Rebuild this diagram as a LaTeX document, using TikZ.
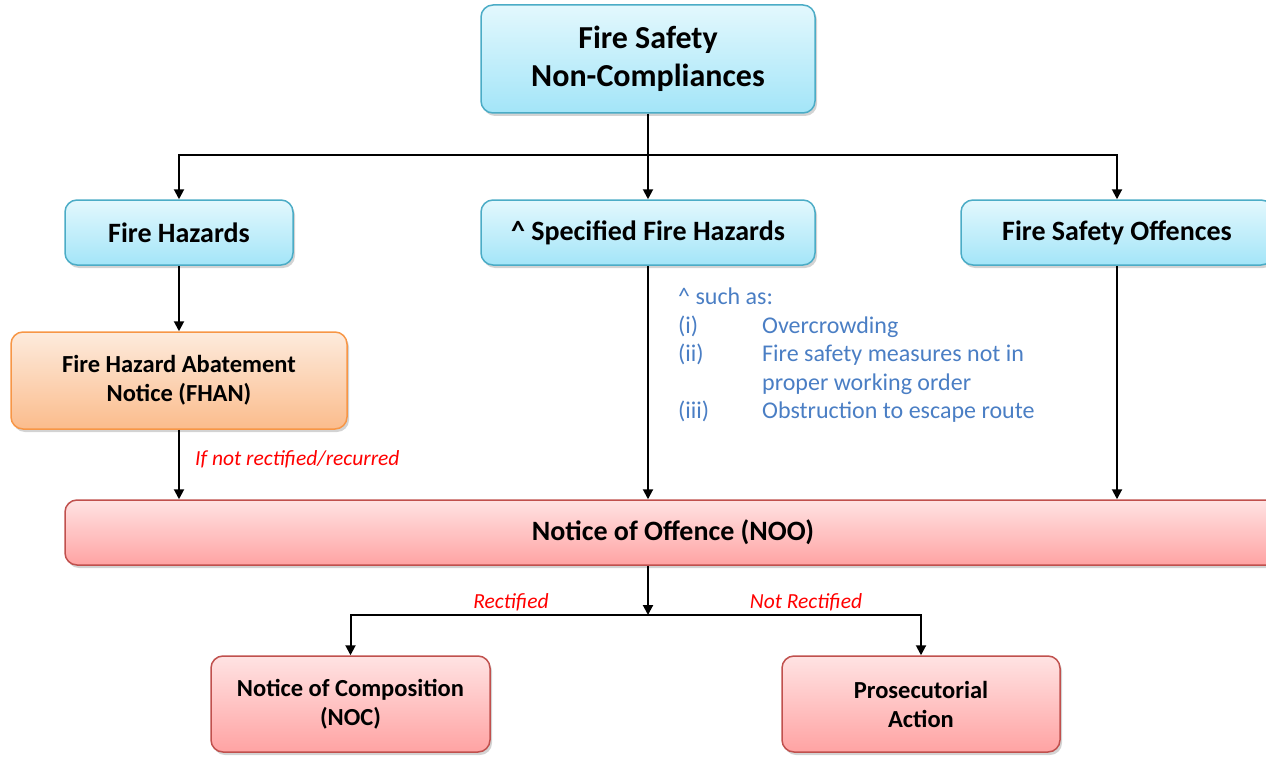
\documentclass[tikz,border=0pt]{standalone}
\usepackage{fontspec}
\setmainfont{Carlito}
\usetikzlibrary{shadows,arrows.meta}
\definecolor{bluetop}{HTML}{E3F8FD}
\definecolor{bluebot}{HTML}{A3E5F8}
\definecolor{blueedge}{HTML}{4BACC6}
\definecolor{orgtop}{HTML}{FDEBDD}
\definecolor{orgbot}{HTML}{FBBC8C}
\definecolor{orgedge}{HTML}{F79646}
\definecolor{redtop}{HTML}{FFE3E3}
\definecolor{redbot}{HTML}{FFA3A3}
\definecolor{rededge}{HTML}{C0504D}
\definecolor{notetext}{HTML}{4A7EC4}
\tikzset{
  x=1pt, y=-1pt,
  box/.style={draw, line width=1.5pt, rounded corners=12pt, align=center,
    font=\fontsize{28}{32}\selectfont\bfseries, inner sep=0pt,
    drop shadow={opacity=0.35, shadow xshift=2pt, shadow yshift=-3pt}},
  twoline/.style={font=\fontsize{24.5}{29}\selectfont\bfseries},
  bluebox/.style={box, draw=blueedge, top color=bluetop, bottom color=bluebot},
  orgbox/.style={box, draw=orgedge, top color=orgtop, bottom color=orgbot},
  redbox/.style={box, draw=rededge, top color=redtop, bottom color=redbot},
  conn/.style={line width=2pt, -{Triangle[length=10pt,width=10pt]}},
  plain/.style={line width=2pt},
  redlbl/.style={text=red, font=\fontsize{21.5}{24}\selectfont\itshape, inner sep=0pt, anchor=base},
  note/.style={text=notetext, font=\fontsize{24}{28.7}\selectfont, inner sep=0pt, anchor=base west},
}
\begin{document}
\begin{tikzpicture}
\useasboundingbox (0,0) rectangle (1266,757);
\begin{scope}
\clip (0,0) rectangle (1266,757);
\node[bluebox, minimum width=334pt, minimum height=108pt, font=\fontsize{32}{38}\selectfont\bfseries] (top) at (648,59) {Fire Safety\\Non-Compliances};
\node[bluebox, minimum width=228pt, minimum height=65pt] (fh) at (179,232.5) {Fire Hazards};
\node[bluebox, minimum width=334pt, minimum height=65pt] (sfh) at (648,232.5) {\^{} Specified Fire Hazards};
\node[bluebox, minimum width=312pt, minimum height=65pt] (fso) at (1117,232.5) {Fire Safety Offences};
\node[orgbox, twoline, minimum width=336pt, minimum height=97pt] (fhan) at (179,380.5) {Fire Hazard Abatement\\Notice (FHAN)};
\node[redbox, minimum width=1216pt, minimum height=65pt] (noo) at (673,532.5) {Notice of Offence (NOO)};
\node[redbox, twoline, minimum width=279pt, minimum height=96pt] (noc) at (350.5,704) {Notice of Composition\\(NOC)};
\node[redbox, twoline, minimum width=278pt, minimum height=96pt] (pa) at (921,704) {Prosecutorial\\Action};
\end{scope}

\coordinate (j1) at (648,155);
\coordinate (j2) at (648,615);
\draw[plain] (top.south) -- (j1);
\draw[conn] (j1) -| (fh.north);
\draw[conn] (j1) -- (sfh.north);
\draw[conn] (j1) -| (fso.north);
\draw[conn] (fh.south) -- (fhan.north);
\draw[conn] (fhan.south) -- (fhan.south |- noo.north);
\draw[conn] (sfh.south) -- (sfh.south |- noo.north);
\draw[conn] (fso.south) -- (fso.south |- noo.north);
\draw[conn] (noo.south -| j2) -- (j2);
\draw[conn] (j2) -| (noc.north);
\draw[conn] (j2) -| (pa.north);

\node[redlbl, anchor=base west] (l1) at (195,465) {If not rectified/recurred};
\node[redlbl] (l2) at (511,608) {Rectified};
\node[redlbl] (l3) at (806,608) {Not Rectified};

\node[note] (n0) at (678,304) {\^{} such as:};
\node[note] (n1) at (678,333) {(i)};
\node[note] (n1b) at (762,333) {Overcrowding};
\node[note] (n2) at (678,361) {(ii)};
\node[note] (n2b) at (762,361) {Fire safety measures not in};
\node[note] (n2c) at (762,390) {proper working order};
\node[note] (n3) at (678,418) {(iii)};
\node[note] (n3b) at (762,418) {Obstruction to escape route};
\end{tikzpicture}
\end{document}
